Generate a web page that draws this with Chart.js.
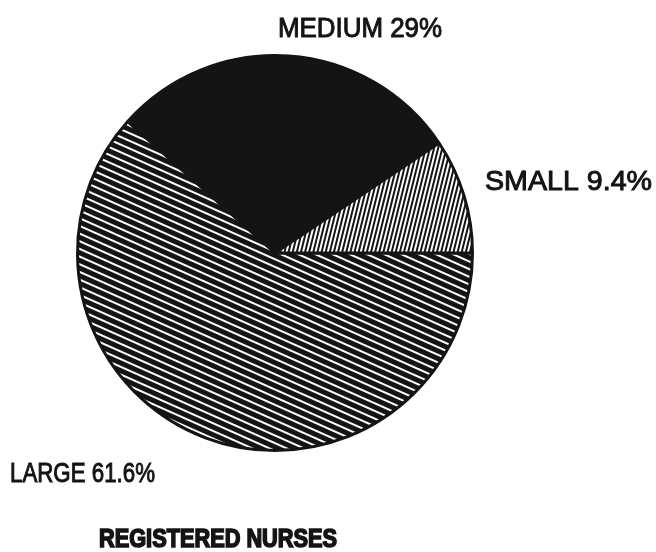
<!DOCTYPE html>
<html>
<head>
<meta charset="utf-8">
<script src="https://cdn.jsdelivr.net/npm/chart.js@4"></script>
<style>
  body { margin: 0; background: #fff; }
  canvas { display: block; }
</style>
</head>
<body>
<canvas id="pie-chart" width="656" height="552"></canvas>
<script>
// Registered nurses by hospital size (clockwise from 3 o'clock)
const categories = ["LARGE", "MEDIUM", "SMALL"];
const shares = [61.6, 29, 9.4];
const chartTitle = "REGISTERED NURSES";

const ink = "#141414";

// hatch pattern: stripe tile rotated by angle (degrees)
function makeStripes(w, h, drawTile, angle) {
  const tile = document.createElement("canvas");
  tile.width = w;
  tile.height = h;
  const t = tile.getContext("2d");
  t.fillStyle = "#fff";
  t.fillRect(0, 0, w, h);
  t.fillStyle = ink;
  drawTile(t);
  const ctx = document.getElementById("pie-chart").getContext("2d");
  const pat = ctx.createPattern(tile, "repeat");
  pat.setTransform(new DOMMatrix().rotateSelf(angle));
  return pat;
}

// large: thick black bands, thin white gaps, falling to the right
const largeFill = makeStripes(1, 7, (t) => t.fillRect(0, 0, 1, 5), 24);
// small: thin steep lines
const smallFill = makeStripes(4, 1, (t) => t.fillRect(0, 0, 2, 1), 14);

// label boxes: left x, baseline y, target width
const labelSpots = [
  { x: 10, y: 482, w: 145 },
  { x: 278, y: 37, w: 164 },
  { x: 485, y: 190, w: 167 },
];

function drawFitted(ctx, text, x, y, w, weight) {
  const m = ctx.measureText(text).width;
  ctx.save();
  ctx.translate(x, y);
  ctx.scale(w / m, 1);
  ctx.fillText(text, 0, 0);
  // thicken strokes a little, like the old plotter lettering
  ctx.lineWidth = weight;
  ctx.strokeStyle = ink;
  ctx.strokeText(text, 0, 0);
  ctx.restore();
}

const textPlugin = {
  id: "pieText",
  afterDraw(chart) {
    const ctx = chart.ctx;
    ctx.save();
    ctx.fillStyle = ink;
    ctx.textBaseline = "alphabetic";
    ctx.font = "28px 'Liberation Sans'";
    categories.forEach((c, i) => {
      const s = labelSpots[i];
      drawFitted(ctx, c + " " + shares[i] + "%", s.x, s.y, s.w, 1);
    });
    ctx.font = "bold 25px 'Liberation Sans'";
    drawFitted(ctx, chartTitle, 99, 547, 238, 1.6);
    ctx.restore();
  },
};

new Chart(document.getElementById("pie-chart").getContext("2d"), {
  type: "pie",
  data: {
    labels: categories,
    datasets: [
      {
        data: shares,
        backgroundColor: [largeFill, ink, smallFill],
        borderColor: ink,
        borderWidth: 3,
      },
    ],
  },
  options: {
    responsive: false,
    animation: false,
    rotation: 90,
    layout: { padding: { left: 76, right: 182, top: 54, bottom: 100 } },
    plugins: {
      legend: { display: false },
      tooltip: { enabled: false },
    },
  },
  plugins: [textPlugin],
});
</script>
</body>
</html>
